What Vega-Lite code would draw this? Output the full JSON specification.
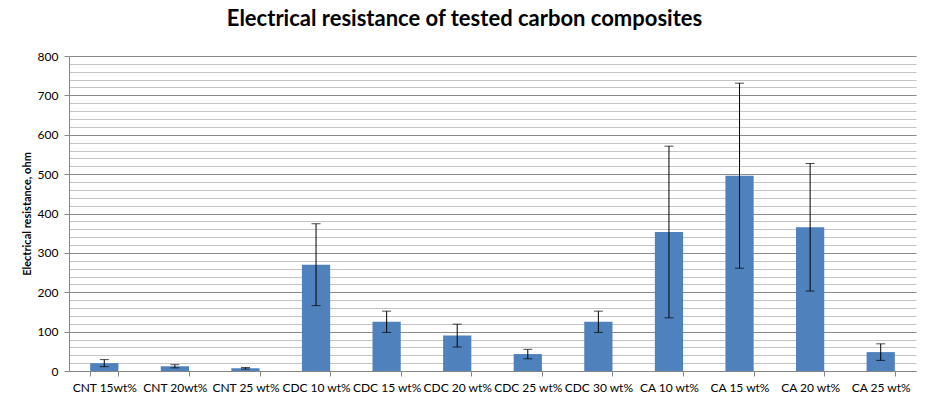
{
  "$schema": "https://vega.github.io/schema/vega-lite/v6.json",
  "width": 847,
  "height": 315,
  "autosize": {"type": "none"},
  "padding": {"left": 69, "top": 56, "right": 16, "bottom": 35},
  "background": "white",
  "title": {
    "text": "Electrical resistance of tested carbon composites",
    "font": "Lato",
    "fontSize": 22,
    "fontWeight": "bold",
    "color": "black",
    "anchor": "middle",
    "dx": -28,
    "offset": 19
  },
  "config": {
    "view": {"stroke": null},
    "axis": {"labelFont": "Lato", "titleFont": "Lato", "labelColor": "black", "titleColor": "black"}
  },
  "data": {
    "values": [
      {"c": "CNT 15wt%", "v": 20, "e": 9},
      {"c": "CNT 20wt%", "v": 12, "e": 4},
      {"c": "CNT 25 wt%", "v": 7, "e": 2},
      {"c": "CDC 10 wt%", "v": 270, "e": 104},
      {"c": "CDC 15 wt%", "v": 125, "e": 27},
      {"c": "CDC 20 wt%", "v": 90, "e": 29},
      {"c": "CDC 25 wt%", "v": 43, "e": 12},
      {"c": "CDC 30 wt%", "v": 125, "e": 27},
      {"c": "CA 10 wt%", "v": 353, "e": 218},
      {"c": "CA 15 wt%", "v": 496, "e": 235},
      {"c": "CA 20 wt%", "v": 365, "e": 162},
      {"c": "CA 25 wt%", "v": 48, "e": 21}
    ]
  },
  "encoding": {
    "x": {
      "field": "c",
      "type": "nominal",
      "sort": null,
      "scale": {"paddingInner": 0.6, "paddingOuter": 0.3},
      "axis": {
        "title": null,
        "labelAngle": 0,
        "labelFontSize": 12,
        "labelPadding": 6,
        "tickBand": "extent",
        "tickSize": 5,
        "tickColor": "#868686",
        "domainColor": "#868686",
        "grid": false
      }
    },
    "y": {
      "field": "v",
      "type": "quantitative",
      "scale": {"domain": [0, 800], "nice": false},
      "axis": {
        "title": "Electrical resistance, ohm",
        "titleFontSize": 11,
        "titleFontWeight": "bold",
        "titlePadding": 5,
        "values": [0,20,40,60,80,100,120,140,160,180,200,220,240,260,280,300,320,340,360,380,400,420,440,460,480,500,520,540,560,580,600,620,640,660,680,700,720,740,760,780,800],
        "labelExpr": "datum.value % 100 === 0 ? datum.label : ''",
        "labelFontSize": 12,
        "labelPadding": 6,
        "tickSize": 5,
        "tickColor": "#868686",
        "tickOpacity": {"condition": {"test": "datum.value % 100 === 0", "value": 1}, "value": 0},
        "domainColor": "#868686",
        "grid": true,
        "gridColor": {"condition": {"test": "datum.value % 100 === 0", "value": "#8a8a8a"}, "value": "#c4c4c4"},
        "gridOpacity": 1
      }
    }
  },
  "layer": [
    {
      "mark": {"type": "bar", "color": "#4F81BD"}
    },
    {
      "mark": {"type": "errorbar", "ticks": {"size": 9, "color": "black"}, "rule": {"color": "black"}, "color": "black"},
      "encoding": {
        "yError": {"field": "e"}
      }
    }
  ]
}
